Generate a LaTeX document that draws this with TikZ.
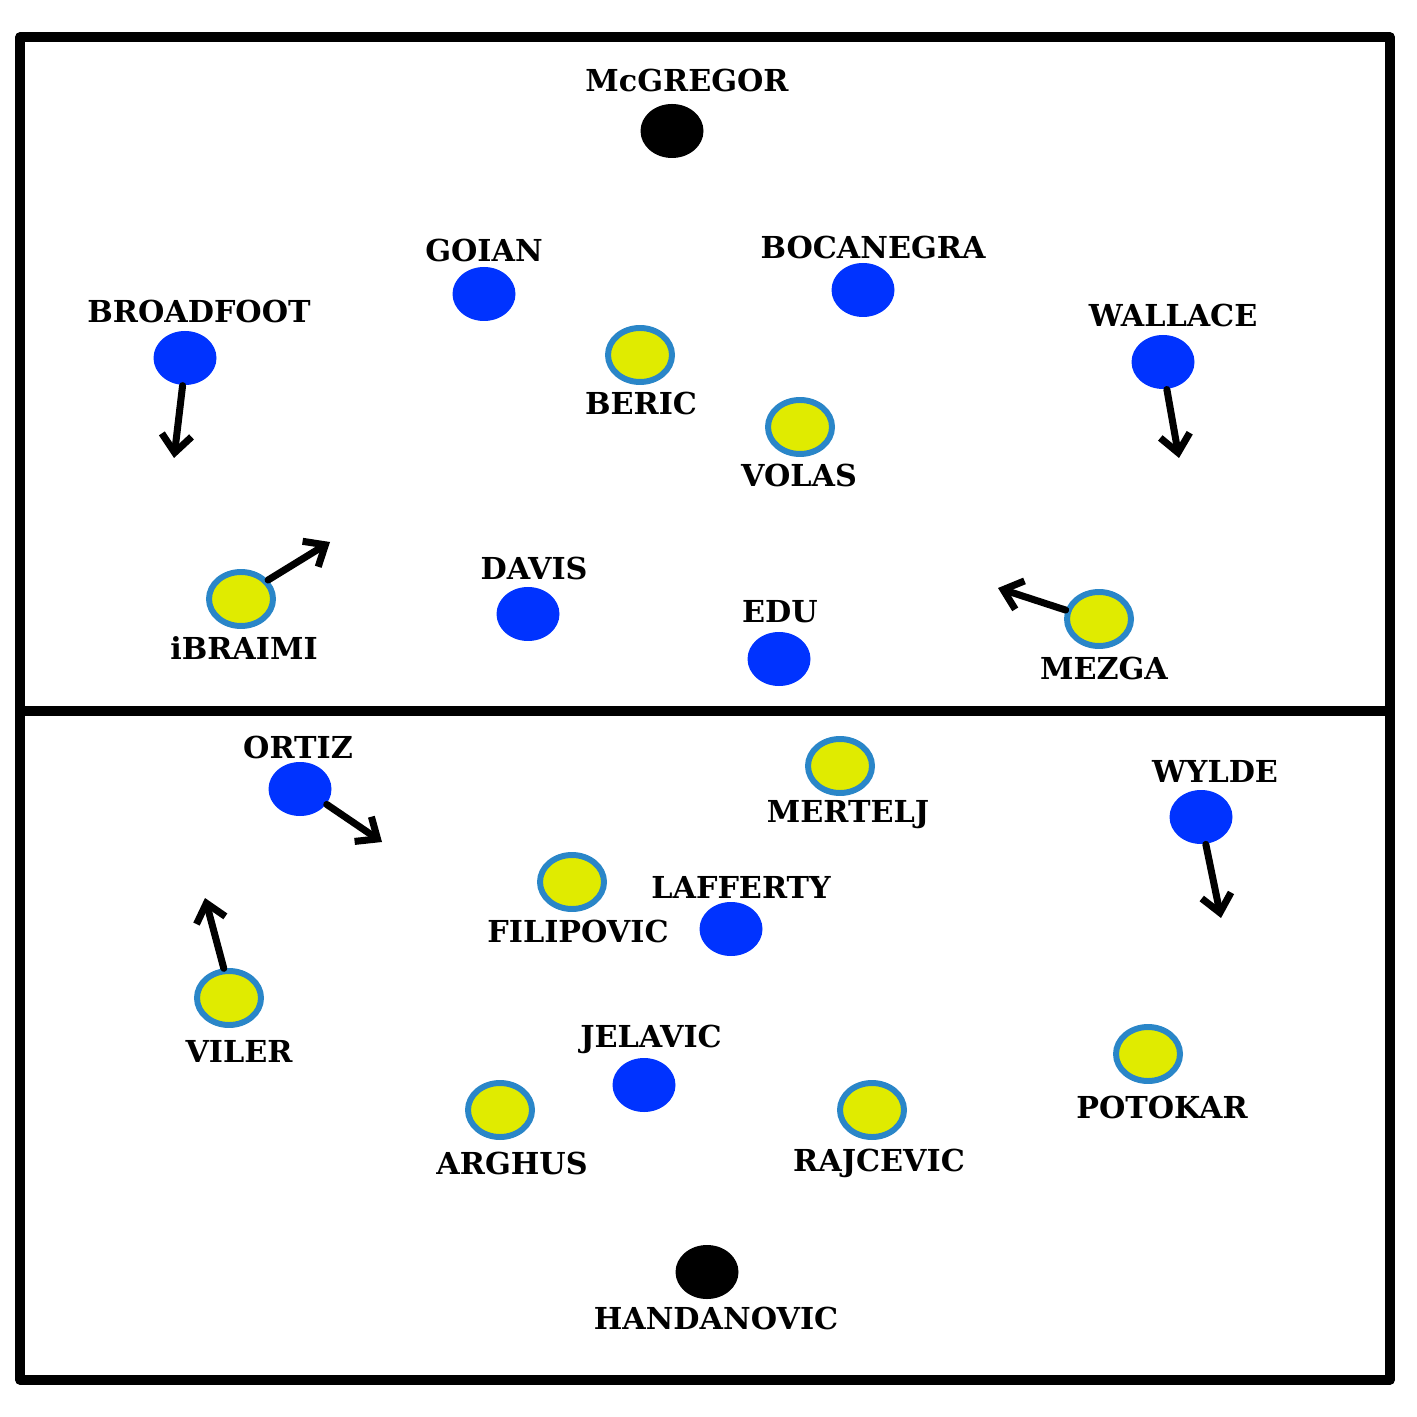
\documentclass[tikz,border=0pt]{standalone}
\usepackage{fontspec}
\setmainfont{DejaVu Serif}
\usetikzlibrary{arrows.meta,shapes.geometric}
\definecolor{pblue}{HTML}{0033FF}
\definecolor{pyel}{HTML}{E0EB00}
\definecolor{pring}{HTML}{2A86C8}
\newlength{\pxu}\setlength{\pxu}{0.1mm}
\tikzset{
  frame/.style={line width=2.6pt,line cap=round,line join=round},
  bluep/.style={ellipse,fill=pblue,minimum width=63\pxu,minimum height=54\pxu,inner sep=0pt},
  yelp/.style={ellipse,fill=pyel,draw=pring,line width=1.7pt,minimum width=64\pxu,minimum height=54\pxu,inner sep=0pt},
  keep/.style={ellipse,fill=black,minimum width=63\pxu,minimum height=54\pxu,inner sep=0pt},
  lab/.style={font=\bfseries\fontsize{8.6}{10}\selectfont,inner sep=0pt},
  mv/.style={line width=2pt,line cap=round,-{Straight Barb[length=5pt,width=8.5pt,line width=2pt]}}
}
\begin{document}
\begin{tikzpicture}[x=0.1mm,y=-0.1mm]
\useasboundingbox (0,0) rectangle (1417,1417);
% frame
\coordinate (tl) at (20,37);
\coordinate (tr) at (1390,37);
\coordinate (br) at (1390,1380);
\coordinate (bl) at (20,1380);
\coordinate (ml) at (20,711);
\coordinate (mr) at (1387,711);
\draw[frame] (tl) -- (tr) -- (br) -- (bl) -- cycle;
\draw[frame] (ml) -- (mr);
% keepers
\node[keep] (mcg) at (672,131) {};
\node[lab] (mcgl) at (687,81) {McGREGOR};
\node[keep] (han) at (707,1272) {};
\node[lab] (hanl) at (716,1318) {HANDANOVIC};
% blue team
\node[bluep] (goi) at (484,294) {};
\node[lab] (goil) at (484,251) {GOIAN};
\node[bluep] (boc) at (863,290) {};
\node[lab] (bocl) at (873,248) {BOCANEGRA};
\node[bluep] (bro) at (185,358) {};
\node[lab] (brol) at (199,312) {BROADFOOT};
\node[bluep] (wal) at (1163,362) {};
\node[lab] (wall) at (1173,316) {WALLACE};
\node[bluep] (dav) at (528,614) {};
\node[lab] (davl) at (534,568) {DAVIS};
\node[bluep] (edu) at (779,659) {};
\node[lab] (edul) at (780,612) {EDU};
\node[bluep] (ort) at (300,789) {};
\node[lab] (ortl) at (298,747) {ORTIZ};
\node[bluep] (wyl) at (1201,817) {};
\node[lab] (wyll) at (1215,771) {WYLDE};
\node[bluep] (laf) at (731,929) {};
\node[lab] (lafl) at (741,887) {LAFFERTY};
\node[bluep] (jel) at (644,1085) {};
\node[lab] (jell) at (651,1039) {JELAVIC};
% yellow team
\node[yelp] (ber) at (640,355) {};
\node[lab] (berl) at (641,404) {BERIC};
\node[yelp] (vol) at (800,427) {};
\node[lab] (voll) at (799,476) {VOLAS};
\node[yelp] (ibr) at (241,599) {};
\node[lab] (ibrl) at (244,648) {iBRAIMI};
\node[yelp] (mez) at (1099,619) {};
\node[lab] (mezl) at (1104,668) {MEZGA};
\node[yelp] (mer) at (840,766) {};
\node[lab] (merl) at (848,815) {MERTELJ};
\node[yelp] (fil) at (572,882) {};
\node[lab] (fill) at (578,931) {FILIPOVIC};
\node[yelp] (vil) at (229,998) {};
\node[lab] (vill) at (239,1051) {VILER};
\node[yelp] (arg) at (500,1110) {};
\node[lab] (argl) at (512,1163) {ARGHUS};
\node[yelp] (raj) at (872,1110) {};
\node[lab] (rajl) at (879,1163) {RAJCEVIC};
\node[yelp] (pot) at (1148,1054) {};
\node[lab] (potl) at (1162,1107) {POTOKAR};
% movement arrows
\coordinate (a1) at (174,458);
\coordinate (a2) at (1179,458);
\coordinate (a3) at (330,542);
\coordinate (a4) at (998,588);
\coordinate (a5) at (382,842);
\coordinate (a6) at (1221,918);
\coordinate (a7) at (205,898);
\draw[mv] (bro.-95) -- (a1);
\draw[mv] (wal.-82) -- (a2);
\draw[mv] (ibr.35) -- (a3);
\draw[mv] (mez.165) -- (a4);
\draw[mv] (ort.-30) -- (a5);
\draw[mv] (wyl.-80) -- (a6);
\draw[mv] (vil.100) -- (a7);
\end{tikzpicture}
\end{document}
